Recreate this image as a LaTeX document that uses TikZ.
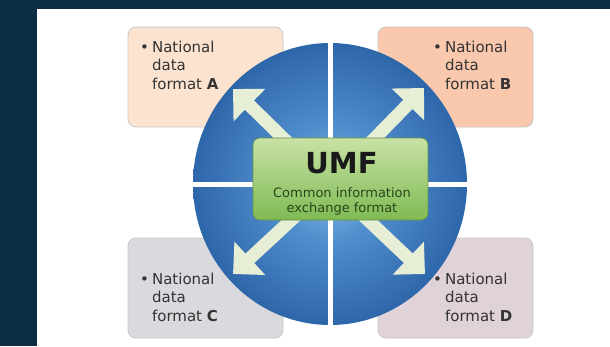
\documentclass[tikz,border=0pt]{standalone}
\usepackage{fontspec}
\setmainfont{DejaVu Sans}
\usetikzlibrary{arrows.meta,shapes.geometric}

\definecolor{navy}{RGB}{13,45,67}
\definecolor{discdark}{RGB}{46,102,170}
\definecolor{discmid}{RGB}{80,142,205}
\definecolor{disclight}{RGB}{140,190,232}
\definecolor{cream}{RGB}{230,238,214}
\definecolor{fmtA}{RGB}{252,227,208}
\definecolor{fmtB}{RGB}{250,200,173}
\definecolor{fmtC}{RGB}{218,218,222}
\definecolor{fmtD}{RGB}{223,210,217}
\definecolor{umftop}{RGB}{200,226,165}
\definecolor{umfbot}{RGB}{128,186,84}
\definecolor{umftext}{RGB}{40,70,25}

\pgfdeclareradialshading{discshade}{\pgfpoint{0bp}{0bp}}{%
  color(0bp)=(disclight); color(10bp)=(discmid); color(25bp)=(discdark); color(50bp)=(discdark)}

\newcommand{\natfmt}[1]{\begin{tabular}[t]{@{}l@{\hspace{3pt}}l@{}}%
  \textbullet & National\\ & data\\ & format \textbf{#1}\end{tabular}}

\begin{document}
\begin{tikzpicture}[x=1pt, y=-1pt,
  fmtbox/.style={draw=black!22, line width=0.8pt, rounded corners=8pt,
    minimum width=155pt, minimum height=100pt},
  fmttext/.style={anchor=base west, inner sep=0pt, text=black!80,
    font=\fontsize{15}{18.5}\selectfont},
  bigarrow/.style={draw=cream, line width=13pt, -{Triangle[width=44pt,length=23pt]}},
  gapline/.style={draw=white, line width=5pt}]

\def\xl{205.5}; % left column
\def\xr{455.5}; % right column
\def\yt{77}; % top row
\def\yb{288}; % bottom row

\def\xtl{140}; % text left
\def\xtr{433}; % text right
\def\ytt{52}; % text top row
\def\ytb{284}; % text bottom row

% frame
\fill[navy] (0,0) rectangle (610,346);
\fill[white] (37,9) rectangle (610,346);

% national formats
\node[fmtbox, fill=fmtA] (boxA) at (\xl,\yt) {};
\node[fmtbox, fill=fmtB] (boxB) at (\xr,\yt) {};
\node[fmtbox, fill=fmtC] (boxC) at (\xl,\yb) {};
\node[fmtbox, fill=fmtD] (boxD) at (\xr,\yb) {};

% disc
\coordinate (ctr) at (330,184);
\node[ellipse, minimum width=274pt, minimum height=282pt, inner sep=0pt,
  shading=discshade] (disc) at (ctr) {};
\draw[gapline] (disc.north) -- (disc.south);
\draw[gapline] (disc.west) -- (disc.east);

% arrows
\coordinate (tipA) at (233,89);
\coordinate (tipB) at (424,88);
\coordinate (tipC) at (233,274);
\coordinate (tipD) at (425,274);
\draw[bigarrow] (ctr) -- (tipA);
\draw[bigarrow] (ctr) -- (tipB);
\draw[bigarrow] (ctr) -- (tipC);
\draw[bigarrow] (ctr) -- (tipD);

% umf
\node[draw=umfbot!80!black, line width=0.6pt, rounded corners=7pt,
  top color=umftop, bottom color=umfbot,
  minimum width=175pt, minimum height=82pt] (umf) at (340.5,179) {};
\node[anchor=base, inner sep=0pt, text=black!90,
  font=\fontsize{29}{30}\selectfont\bfseries] (umftitle) at (341.5,173) {UMF};
\node[anchor=base, inner sep=0pt, align=center, text=umftext,
  font=\fontsize{13}{15}\selectfont] (umfsub) at (342,212) {Common information\\exchange format};

% labels
\node[fmttext] (txtA) at (\xtl,\ytt) {\natfmt{A}};
\node[fmttext] (txtB) at (\xtr,\ytt) {\natfmt{B}};
\node[fmttext] (txtC) at (\xtl,\ytb) {\natfmt{C}};
\node[fmttext] (txtD) at (\xtr,\ytb) {\natfmt{D}};

\end{tikzpicture}
\end{document}
